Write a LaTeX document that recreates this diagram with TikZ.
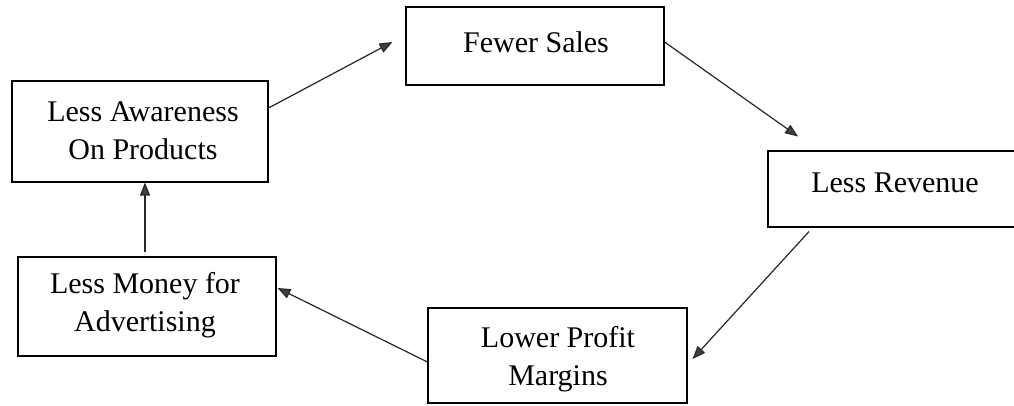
\documentclass[tikz,border=0pt]{standalone}
\usepackage{fontspec}
\setmainfont{Liberation Serif}
\usetikzlibrary{arrows.meta,calc}
\begin{document}
\begin{tikzpicture}[x=1pt,y=-1pt,
  box/.style={draw=black,line width=1.1pt,rectangle,inner sep=0pt},
  lbl/.style={font=\fontsize{30}{38}\selectfont,align=center,inner sep=0pt},
  arr/.style={line width=1.2pt,draw=black!85,-{Triangle[length=13pt,width=10pt,fill=black!75]}}]
\useasboundingbox (0,0) rectangle (1014,406);
% boxes
\node[box,minimum width=256pt,minimum height=101pt] (aw) at (140,131.5) {};
\node[box,minimum width=258pt,minimum height=78pt] (fs) at (535,46) {};
\node[box,minimum width=300pt,minimum height=76pt] (rv) at (918,189) {};
\node[box,minimum width=259pt,minimum height=95pt] (lp) at (557.5,355.5) {};
\node[box,minimum width=258pt,minimum height=99pt] (mo) at (147,306.5) {};
% labels
\node[lbl] (awt) at (143,131) {Less Awareness\\On Products};
\node[lbl] (fst) at (536,42) {Fewer Sales};
\node[lbl] (rvt) at (895,183) {Less Revenue};
\node[lbl] (lpt) at (558,359) {Lower Profit\\Margins};
\node[lbl] (mot) at (145,305) {Less Money for\\Advertising};
% connectors
\draw[arr] ([yshift=23.5pt]aw.east) -- ([xshift=-13pt,yshift=4pt]fs.west);
\draw[arr] ([yshift=4pt]fs.east) -- ([xshift=-120pt,yshift=14pt]rv.north);
\draw[arr] ([xshift=-109pt,yshift=-4pt]rv.south) -- ([xshift=5pt,yshift=-3.5pt]lp.east);
\draw[arr] ([yshift=-6.5pt]lp.west) -- ([xshift=1pt,yshift=18.5pt]mo.east);
\draw[arr] ([xshift=-2pt,yshift=4pt]mo.north) -- ([xshift=5pt]aw.south);
\end{tikzpicture}
\end{document}
